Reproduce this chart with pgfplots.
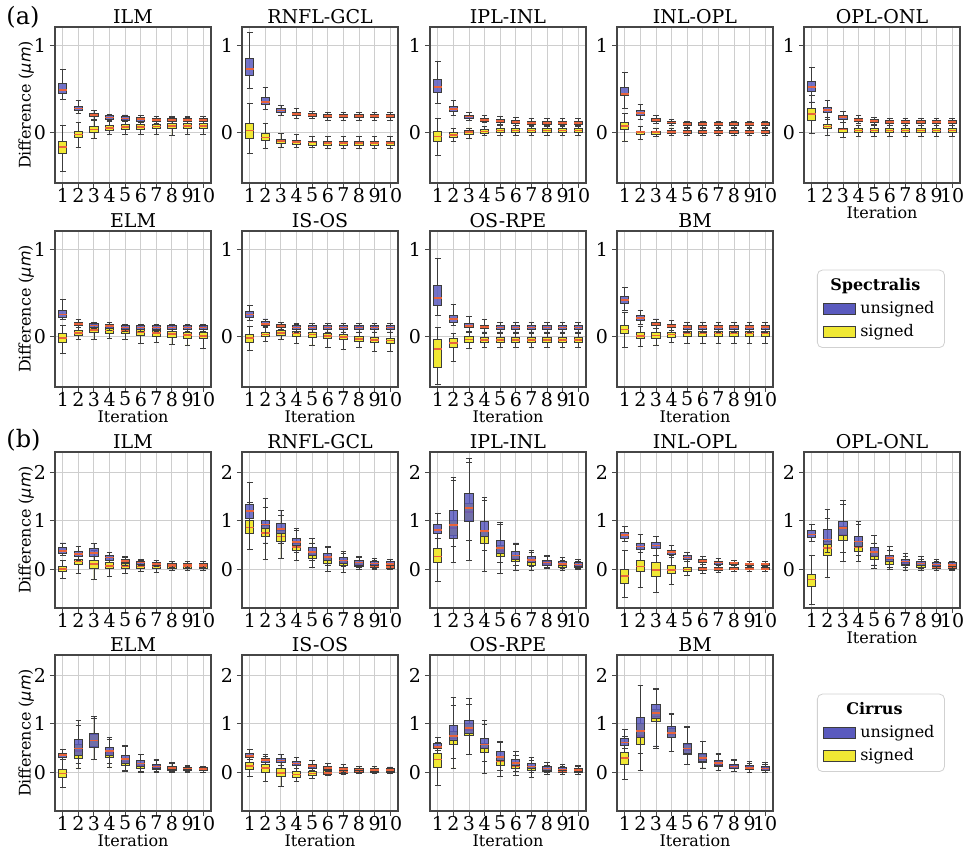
\documentclass[border=0pt]{standalone}
\usepackage{fontspec}
\setmainfont{DejaVu Serif}
\newfontfamily\dvs{DejaVu Sans}
\usepackage{pgfplots}
\usepackage{pgfplotstable}
\pgfplotsset{compat=1.18}
\usepgfplotslibrary{statistics}

\definecolor{uB}{RGB}{90,90,190}
\definecolor{sY}{RGB}{240,232,52}
\definecolor{edge}{RGB}{60,60,60}
\definecolor{medc}{RGB}{232,100,60}
\definecolor{gridc}{RGB}{206,206,206}
\definecolor{spine}{RGB}{70,70,70}

% columns: unsigned (lower whisker, Q1, median, Q3, upper whisker), signed (same)
% ---------------- (a) Spectralis ----------------
\pgfplotstableread{
uLW uLQ uMed uUQ uUW sLW sLQ sMed sUQ sUW
0.38 0.45 0.49 0.56 0.72 -0.45 -0.24 -0.17 -0.11 0.08
0.22 0.25 0.275 0.30 0.37 -0.17 -0.06 -0.025 0.01 0.11
0.15 0.18 0.20 0.22 0.25 -0.07 0.00 0.03 0.065 0.14
0.13 0.15 0.17 0.19 0.21 -0.03 0.02 0.05 0.08 0.14
0.12 0.14 0.16 0.18 0.20 -0.02 0.03 0.06 0.09 0.15
0.11 0.13 0.15 0.17 0.19 -0.02 0.03 0.06 0.09 0.16
0.10 0.12 0.14 0.16 0.18 -0.02 0.04 0.065 0.09 0.16
0.10 0.12 0.14 0.16 0.18 -0.04 0.04 0.07 0.10 0.17
0.10 0.12 0.14 0.16 0.18 -0.02 0.04 0.07 0.10 0.17
0.10 0.12 0.14 0.16 0.18 -0.02 0.04 0.07 0.10 0.16
}\aILM
\pgfplotstableread{
uLW uLQ uMed uUQ uUW sLW sLQ sMed sUQ sUW
0.51 0.66 0.73 0.85 1.15 -0.24 -0.07 0.02 0.10 0.33
0.26 0.32 0.35 0.40 0.52 -0.19 -0.09 -0.06 -0.01 0.10
0.19 0.23 0.25 0.28 0.31 -0.17 -0.13 -0.10 -0.08 -0.01
0.16 0.19 0.21 0.23 0.27 -0.18 -0.14 -0.11 -0.09 -0.03
0.16 0.18 0.20 0.22 0.24 -0.18 -0.15 -0.12 -0.10 -0.05
0.14 0.17 0.19 0.21 0.23 -0.19 -0.15 -0.125 -0.10 -0.05
0.14 0.17 0.19 0.21 0.23 -0.19 -0.15 -0.125 -0.10 -0.05
0.14 0.17 0.19 0.21 0.23 -0.19 -0.15 -0.125 -0.10 -0.05
0.14 0.17 0.19 0.21 0.23 -0.19 -0.15 -0.125 -0.10 -0.05
0.14 0.17 0.19 0.21 0.23 -0.19 -0.15 -0.125 -0.10 -0.05
}\aRNFL
\pgfplotstableread{
uLW uLQ uMed uUQ uUW sLW sLQ sMed sUQ sUW
0.335 0.46 0.52 0.61 0.815 -0.27 -0.11 -0.05 0.01 0.16
0.19 0.24 0.27 0.30 0.37 -0.11 -0.06 -0.03 0.00 0.04
0.14 0.16 0.18 0.20 0.23 -0.07 -0.02 0.00 0.02 0.05
0.11 0.13 0.145 0.16 0.19 -0.04 -0.01 0.01 0.03 0.07
0.09 0.11 0.13 0.15 0.18 -0.04 0.00 0.02 0.04 0.08
0.08 0.10 0.12 0.14 0.17 -0.04 0.00 0.02 0.04 0.08
0.07 0.09 0.11 0.13 0.16 -0.04 0.00 0.02 0.04 0.08
0.07 0.09 0.11 0.13 0.16 -0.04 0.00 0.02 0.04 0.08
0.07 0.09 0.11 0.13 0.16 -0.04 0.00 0.02 0.04 0.08
0.07 0.09 0.11 0.13 0.16 -0.04 0.00 0.02 0.04 0.08
}\aIPL
\pgfplotstableread{
uLW uLQ uMed uUQ uUW sLW sLQ sMed sUQ sUW
0.28 0.42 0.44 0.52 0.69 -0.10 0.035 0.07 0.11 0.22
0.15 0.19 0.22 0.25 0.32 -0.08 -0.02 0.00 0.01 0.07
0.10 0.12 0.14 0.16 0.19 -0.05 -0.02 0.00 0.01 0.05
0.08 0.10 0.115 0.13 0.15 -0.04 -0.01 0.005 0.02 0.05
0.06 0.08 0.095 0.11 0.13 -0.04 -0.01 0.005 0.02 0.05
0.06 0.08 0.095 0.11 0.13 -0.04 -0.01 0.005 0.02 0.05
0.06 0.08 0.095 0.11 0.13 -0.04 -0.01 0.005 0.02 0.05
0.06 0.08 0.095 0.11 0.13 -0.04 -0.01 0.005 0.02 0.05
0.06 0.08 0.095 0.11 0.13 -0.04 -0.01 0.005 0.02 0.05
0.06 0.08 0.095 0.11 0.13 -0.04 -0.01 0.005 0.02 0.05
}\aINL
\pgfplotstableread{
uLW uLQ uMed uUQ uUW sLW sLQ sMed sUQ sUW
0.35 0.47 0.52 0.59 0.75 -0.01 0.14 0.21 0.28 0.42
0.15 0.23 0.26 0.29 0.37 -0.04 0.04 0.065 0.09 0.17
0.11 0.15 0.175 0.20 0.24 -0.06 0.00 0.03 0.05 0.11
0.10 0.12 0.14 0.16 0.19 -0.05 0.00 0.02 0.04 0.08
0.09 0.11 0.13 0.15 0.17 -0.05 0.00 0.02 0.04 0.08
0.08 0.10 0.12 0.14 0.16 -0.05 0.00 0.02 0.04 0.08
0.08 0.10 0.12 0.14 0.16 -0.05 0.00 0.02 0.04 0.08
0.08 0.10 0.12 0.14 0.16 -0.05 0.00 0.02 0.04 0.08
0.08 0.10 0.12 0.14 0.16 -0.05 0.00 0.02 0.04 0.08
0.08 0.10 0.12 0.14 0.16 -0.05 0.00 0.02 0.04 0.08
}\aOPL
\pgfplotstableread{
uLW uLQ uMed uUQ uUW sLW sLQ sMed sUQ sUW
0.19 0.215 0.25 0.30 0.42 -0.20 -0.07 -0.02 0.035 0.12
0.10 0.12 0.14 0.16 0.19 -0.04 0.01 0.04 0.07 0.15
0.09 0.10 0.125 0.15 0.16 -0.04 0.04 0.07 0.10 0.14
0.07 0.09 0.12 0.14 0.16 -0.03 0.03 0.065 0.10 0.14
0.06 0.08 0.10 0.13 0.14 -0.04 0.03 0.06 0.09 0.14
0.06 0.08 0.10 0.12 0.14 -0.08 0.01 0.05 0.08 0.14
0.06 0.08 0.10 0.12 0.14 -0.07 0.00 0.035 0.07 0.13
0.06 0.08 0.10 0.12 0.14 -0.09 -0.01 0.025 0.06 0.12
0.06 0.08 0.10 0.12 0.14 -0.10 -0.02 0.015 0.05 0.12
0.06 0.08 0.10 0.12 0.14 -0.14 -0.03 0.00 0.04 0.11
}\aELM
\pgfplotstableread{
uLW uLQ uMed uUQ uUW sLW sLQ sMed sUQ sUW
0.18 0.215 0.25 0.285 0.36 -0.16 -0.07 -0.02 0.02 0.11
0.10 0.12 0.14 0.17 0.20 -0.06 0.00 0.02 0.05 0.11
0.08 0.10 0.12 0.14 0.16 -0.04 0.01 0.04 0.07 0.13
0.05 0.08 0.10 0.13 0.15 -0.08 0.00 0.03 0.06 0.14
0.05 0.08 0.10 0.13 0.15 -0.10 -0.01 0.02 0.05 0.13
0.05 0.08 0.10 0.13 0.15 -0.13 -0.03 0.00 0.03 0.13
0.05 0.08 0.10 0.13 0.15 -0.15 -0.04 -0.01 0.02 0.12
0.05 0.08 0.10 0.13 0.15 -0.13 -0.06 -0.03 0.00 0.11
0.05 0.08 0.10 0.13 0.15 -0.17 -0.07 -0.04 -0.01 0.11
0.05 0.08 0.10 0.13 0.15 -0.18 -0.08 -0.05 -0.02 0.12
}\aISOS
\pgfplotstableread{
uLW uLQ uMed uUQ uUW sLW sLQ sMed sUQ sUW
0.24 0.36 0.44 0.59 0.90 -0.56 -0.36 -0.15 -0.04 0.10
0.12 0.16 0.20 0.24 0.37 -0.29 -0.13 -0.08 -0.03 0.03
0.06 0.10 0.12 0.15 0.23 -0.14 -0.07 -0.035 0.00 0.05
0.05 0.09 0.11 0.13 0.19 -0.13 -0.07 -0.04 -0.01 0.03
0.05 0.08 0.10 0.12 0.16 -0.13 -0.07 -0.04 -0.01 0.03
0.05 0.08 0.10 0.12 0.16 -0.13 -0.07 -0.04 -0.01 0.03
0.05 0.08 0.10 0.12 0.16 -0.13 -0.07 -0.04 -0.01 0.03
0.05 0.08 0.10 0.12 0.16 -0.13 -0.07 -0.04 -0.01 0.03
0.05 0.08 0.10 0.12 0.16 -0.13 -0.07 -0.04 -0.01 0.03
0.05 0.08 0.10 0.12 0.16 -0.13 -0.07 -0.04 -0.01 0.03
}\aOSRPE
\pgfplotstableread{
uLW uLQ uMed uUQ uUW sLW sLQ sMed sUQ sUW
0.30 0.38 0.42 0.46 0.56 -0.13 0.035 0.08 0.13 0.28
0.14 0.18 0.21 0.24 0.30 -0.12 -0.03 0.00 0.04 0.11
0.09 0.12 0.14 0.16 0.20 -0.10 -0.02 0.01 0.04 0.12
0.07 0.10 0.12 0.14 0.18 -0.07 -0.01 0.02 0.05 0.13
0.05 0.08 0.105 0.13 0.16 -0.08 0.00 0.03 0.06 0.13
0.05 0.08 0.105 0.13 0.16 -0.08 0.00 0.03 0.06 0.13
0.05 0.08 0.105 0.13 0.16 -0.08 0.00 0.03 0.06 0.13
0.05 0.08 0.105 0.13 0.16 -0.08 0.00 0.03 0.06 0.13
0.05 0.08 0.105 0.13 0.16 -0.08 0.00 0.03 0.06 0.13
0.05 0.08 0.105 0.13 0.16 -0.08 0.00 0.03 0.06 0.13
}\aBM
% ---------------- (b) Cirrus ----------------
\pgfplotstableread{
uLW uLQ uMed uUQ uUW sLW sLQ sMed sUQ sUW
0.30 0.34 0.38 0.455 0.55 -0.17 -0.03 0.02 0.07 0.20
0.20 0.27 0.32 0.37 0.47 -0.07 0.12 0.17 0.22 0.37
0.20 0.27 0.34 0.44 0.53 -0.20 0.03 0.12 0.20 0.40
0.15 0.20 0.25 0.29 0.36 -0.13 0.02 0.08 0.15 0.30
0.10 0.15 0.18 0.22 0.27 -0.07 0.03 0.08 0.13 0.25
0.08 0.12 0.15 0.18 0.22 -0.03 0.03 0.07 0.12 0.20
0.06 0.10 0.12 0.16 0.20 -0.05 0.03 0.07 0.12 0.20
0.05 0.08 0.10 0.14 0.18 -0.02 0.03 0.07 0.11 0.18
0.05 0.08 0.10 0.14 0.18 -0.02 0.03 0.07 0.11 0.18
0.05 0.08 0.10 0.14 0.18 -0.02 0.03 0.07 0.11 0.18
}\bILM
\pgfplotstableread{
uLW uLQ uMed uUQ uUW sLW sLQ sMed sUQ sUW
0.75 1.05 1.20 1.33 1.78 0.42 0.75 0.87 1.02 1.38
0.55 0.85 0.93 1.02 1.45 0.22 0.68 0.75 0.90 1.28
0.55 0.75 0.83 0.95 1.22 0.23 0.58 0.68 0.80 1.12
0.35 0.50 0.57 0.65 0.85 0.20 0.40 0.47 0.55 0.80
0.20 0.30 0.37 0.45 0.65 0.05 0.24 0.30 0.38 0.55
0.10 0.20 0.26 0.33 0.47 -0.03 0.13 0.19 0.26 0.45
0.06 0.14 0.19 0.25 0.38 -0.05 0.08 0.14 0.20 0.33
0.04 0.10 0.15 0.20 0.28 0.00 0.06 0.10 0.15 0.25
0.03 0.09 0.13 0.18 0.24 0.00 0.04 0.08 0.12 0.20
0.03 0.08 0.12 0.17 0.22 0.00 0.03 0.06 0.10 0.18
}\bRNFL
\pgfplotstableread{
uLW uLQ uMed uUQ uUW sLW sLQ sMed sUQ sUW
0.65 0.75 0.82 0.92 1.15 -0.23 0.16 0.27 0.44 0.65
0.47 0.65 0.92 1.22 1.88 0.15 0.70 0.85 1.00 1.82
0.60 0.99 1.27 1.56 2.28 0.20 1.00 1.18 1.35 2.20
0.40 0.68 0.80 0.98 1.48 -0.03 0.55 0.68 0.80 1.42
0.15 0.34 0.45 0.61 0.97 -0.08 0.28 0.38 0.50 0.93
0.08 0.22 0.29 0.37 0.55 -0.01 0.17 0.23 0.30 0.52
0.06 0.15 0.20 0.28 0.40 -0.02 0.10 0.16 0.22 0.35
0.04 0.10 0.15 0.20 0.30 0.02 0.08 0.12 0.17 0.27
0.03 0.08 0.12 0.17 0.25 -0.01 0.05 0.09 0.13 0.20
0.03 0.07 0.11 0.16 0.22 0.00 0.04 0.08 0.12 0.18
}\bIPL
\pgfplotstableread{
uLW uLQ uMed uUQ uUW sLW sLQ sMed sUQ sUW
0.58 0.65 0.71 0.77 0.88 -0.57 -0.27 -0.12 0.01 0.40
0.35 0.42 0.48 0.55 0.72 -0.37 -0.03 0.07 0.20 0.55
0.30 0.43 0.50 0.56 0.68 -0.47 -0.13 0.00 0.16 0.50
0.25 0.32 0.36 0.40 0.50 -0.29 -0.07 0.00 0.08 0.30
0.18 0.22 0.25 0.29 0.35 -0.11 -0.03 0.01 0.05 0.17
0.11 0.15 0.18 0.21 0.28 -0.07 -0.01 0.02 0.05 0.12
0.09 0.12 0.15 0.18 0.23 -0.05 -0.01 0.02 0.05 0.10
0.08 0.11 0.135 0.16 0.20 -0.03 0.00 0.02 0.05 0.09
0.07 0.10 0.12 0.14 0.18 -0.03 0.00 0.02 0.05 0.09
0.06 0.09 0.115 0.14 0.17 -0.03 0.00 0.02 0.05 0.09
}\bINL
\pgfplotstableread{
uLW uLQ uMed uUQ uUW sLW sLQ sMed sUQ sUW
0.58 0.66 0.72 0.80 0.92 -0.70 -0.34 -0.20 -0.10 0.30
0.35 0.52 0.62 0.82 1.23 -0.15 0.30 0.45 0.58 1.05
0.35 0.71 0.85 0.99 1.42 0.18 0.60 0.72 0.88 1.33
0.30 0.47 0.58 0.68 0.98 0.17 0.38 0.46 0.58 0.92
0.10 0.28 0.36 0.45 0.70 0.02 0.22 0.28 0.35 0.55
0.05 0.18 0.24 0.30 0.48 0.00 0.12 0.17 0.22 0.40
0.04 0.12 0.17 0.22 0.33 -0.01 0.08 0.12 0.16 0.28
0.02 0.09 0.13 0.18 0.27 -0.02 0.05 0.09 0.13 0.22
0.02 0.07 0.11 0.16 0.22 -0.02 0.03 0.06 0.10 0.18
0.01 0.06 0.10 0.15 0.18 -0.02 0.02 0.05 0.09 0.15
}\bOPL
\pgfplotstableread{
uLW uLQ uMed uUQ uUW sLW sLQ sMed sUQ sUW
0.28 0.32 0.36 0.40 0.48 -0.30 -0.10 -0.01 0.07 0.27
0.20 0.35 0.50 0.68 1.07 0.10 0.30 0.45 0.58 0.97
0.28 0.52 0.66 0.81 1.15 0.28 0.55 0.66 0.78 1.12
0.20 0.36 0.45 0.52 0.72 0.12 0.32 0.40 0.45 0.68
0.05 0.20 0.28 0.35 0.56 0.02 0.16 0.23 0.30 0.55
0.03 0.13 0.19 0.25 0.38 0.00 0.10 0.15 0.20 0.37
0.02 0.09 0.13 0.18 0.27 0.00 0.06 0.10 0.15 0.25
0.02 0.07 0.10 0.14 0.22 0.00 0.05 0.08 0.12 0.19
0.02 0.06 0.09 0.12 0.16 0.00 0.04 0.07 0.10 0.14
0.01 0.05 0.08 0.11 0.14 0.00 0.04 0.065 0.09 0.13
}\bELM
\pgfplotstableread{
uLW uLQ uMed uUQ uUW sLW sLQ sMed sUQ sUW
0.27 0.31 0.35 0.40 0.47 -0.08 0.07 0.14 0.22 0.40
0.17 0.22 0.26 0.30 0.37 -0.17 0.00 0.10 0.18 0.33
0.15 0.21 0.25 0.30 0.37 -0.28 -0.08 0.00 0.08 0.30
0.09 0.15 0.19 0.24 0.32 -0.18 -0.09 -0.03 0.02 0.18
0.05 0.10 0.14 0.18 0.25 -0.12 -0.06 -0.01 0.03 0.12
0.02 0.07 0.10 0.14 0.20 -0.06 -0.03 0.00 0.04 0.10
0.01 0.05 0.08 0.12 0.17 -0.04 -0.01 0.02 0.05 0.10
0.00 0.04 0.07 0.10 0.14 -0.02 0.00 0.03 0.06 0.10
0.00 0.03 0.06 0.09 0.13 -0.02 0.00 0.03 0.06 0.10
0.00 0.03 0.06 0.09 0.12 -0.02 0.00 0.03 0.06 0.10
}\bISOS
\pgfplotstableread{
uLW uLQ uMed uUQ uUW sLW sLQ sMed sUQ sUW
0.45 0.49 0.53 0.60 0.73 -0.25 0.12 0.27 0.39 0.62
0.30 0.66 0.75 0.97 1.55 0.10 0.58 0.70 0.85 1.38
0.37 0.80 0.92 1.07 1.52 0.37 0.76 0.88 1.00 1.40
0.24 0.49 0.58 0.71 1.07 -0.02 0.42 0.52 0.60 0.98
0.05 0.25 0.33 0.43 0.65 -0.08 0.15 0.23 0.32 0.62
0.03 0.15 0.20 0.27 0.44 -0.06 0.08 0.14 0.20 0.35
0.01 0.09 0.13 0.19 0.31 -0.09 0.05 0.09 0.13 0.25
0.00 0.05 0.09 0.13 0.22 -0.04 0.02 0.05 0.08 0.15
0.00 0.04 0.07 0.11 0.18 -0.04 0.01 0.04 0.07 0.13
0.00 0.03 0.06 0.10 0.16 -0.03 0.01 0.04 0.07 0.13
}\bOSRPE
\pgfplotstableread{
uLW uLQ uMed uUQ uUW sLW sLQ sMed sUQ sUW
0.50 0.56 0.62 0.70 0.88 -0.13 0.18 0.30 0.42 0.75
0.40 0.73 0.85 1.13 1.78 0.05 0.58 0.75 1.00 1.78
0.55 1.11 1.22 1.39 1.73 0.50 1.05 1.15 1.30 1.70
0.43 0.72 0.82 0.94 1.22 0.43 0.72 0.80 0.90 1.20
0.17 0.40 0.50 0.60 0.95 0.17 0.38 0.47 0.58 0.92
0.10 0.23 0.30 0.40 0.65 0.10 0.22 0.28 0.37 0.65
0.05 0.15 0.20 0.26 0.40 0.04 0.13 0.18 0.24 0.38
0.02 0.09 0.13 0.18 0.28 0.02 0.08 0.12 0.16 0.26
0.01 0.06 0.10 0.15 0.23 0.01 0.06 0.09 0.13 0.20
0.01 0.05 0.09 0.14 0.21 0.00 0.05 0.08 0.12 0.18
}\bBM

\newcommand\fs[1]{\fontsize{#1}{#1}\selectfont}

\pgfplotsset{
  base/.style={
    scale only axis, width=78pt, height=78pt,
    xmin=0.5, xmax=10.5, xtick={1,2,...,10},
    tick pos=left, tick align=outside, major tick length=2.5pt,
    tick style={spine, line width=0.5pt},
    axis line style={spine, line width=0.6pt},
    grid=major, major grid style={gridc, line width=0.5pt},
    /pgf/number format/assume math mode=true,
    ticklabel style={font=\fs{9.5}},
    xticklabel style={yshift=3.5pt},
    yticklabel style={xshift=1.5pt},
    title style={font=\fs{9.5}, at={(axis description cs:0.5,1)}, anchor=base, yshift=-4.5pt},
    xlabel style={font=\fs{8}, at={(axis description cs:0.5,-0.19)}, anchor=center},
    ylabel style={font=\fs{8}, at={(axis description cs:-0.185,0.5)}, anchor=center},
    clip=false,
  },
  ya/.style={ymin=-0.585, ymax=1.215, ytick={0,1}},
  yb/.style={ymin=-0.78, ymax=2.41, ytick={0,1,2}},
  sbox/.style={draw=edge, fill=sY, line width=0.45pt,
    boxplot/draw direction=y,
    boxplot/box extend=0.53, boxplot/whisker extend=0.35,
    boxplot/every median/.style={draw=medc, line width=0.8pt}},
  ubox/.style={draw=edge, fill=uB, fill opacity=0.85, line width=0.45pt,
    boxplot/draw direction=y,
    boxplot/box extend=0.53, boxplot/whisker extend=0.35,
    boxplot/every median/.style={draw=medc, line width=0.8pt}},
  legbox/.style={legend style={at={(1.282,0.752)}, anchor=north west,
    draw=black!18, rounded corners=2.5pt, fill=white, font=\fs{8},
    inner xsep=3pt, inner ysep=2pt, row sep=0pt,
    /tikz/every even column/.append style={column sep=6pt}},
    legend cell align=left},
}

% one box: #1 table, #2 row, #3 series prefix (u or s)
\newcommand\onebox[3]{%
  \pgfplotstablegetelem{#2}{#3LW}\of{#1}\let\vLW\pgfplotsretval
  \pgfplotstablegetelem{#2}{#3LQ}\of{#1}\let\vLQ\pgfplotsretval
  \pgfplotstablegetelem{#2}{#3Med}\of{#1}\let\vMed\pgfplotsretval
  \pgfplotstablegetelem{#2}{#3UQ}\of{#1}\let\vUQ\pgfplotsretval
  \pgfplotstablegetelem{#2}{#3UW}\of{#1}\let\vUW\pgfplotsretval
  \edef\tmp{\noexpand\addplot[#3box, boxplot prepared={draw position=\the\numexpr#2+1\relax,
    lower whisker=\vLW, lower quartile=\vLQ, median=\vMed,
    upper quartile=\vUQ, upper whisker=\vUW}] coordinates {};}%
  \tmp
}
\newcommand\boxes[1]{%
  \pgfplotsinvokeforeach{0,...,9}{%
    \onebox{#1}{##1}{s}%
    \onebox{#1}{##1}{u}%
  }%
}

\newcommand\ylab{Difference ({\dvs\itshape μm})}
\newcommand\legimgs{%
  \addlegendimage{empty legend}
  \addlegendimage{legend image code/.code={\draw[sharp corners, draw=edge, fill=uB, line width=0.45pt] (0pt,-2.6pt) rectangle (16pt,2.6pt);}}
  \addlegendimage{legend image code/.code={\draw[sharp corners, draw=edge, fill=sY, line width=0.45pt] (0pt,-2.6pt) rectangle (16pt,2.6pt);}}
}

\begin{document}
\begin{tikzpicture}
\path[use as bounding box] (0,0) rectangle (483pt,-427.5pt);
\node[anchor=west, font=\fs{12}, inner sep=0pt] at (3pt,-8.5pt) {(a)};
\node[anchor=west, font=\fs{12}, inner sep=0pt] at (3pt,-220pt) {(b)};

% ---- (a) row 1
\begin{axis}[base, ya, at={(27.5pt,-13.5pt)}, anchor=north west, title={ILM}, ylabel={\ylab}]
\boxes{\aILM}
\end{axis}
\begin{axis}[base, ya, at={(121pt,-13.5pt)}, anchor=north west, title={RNFL-GCL}]
\boxes{\aRNFL}
\end{axis}
\begin{axis}[base, ya, at={(215pt,-13.5pt)}, anchor=north west, title={IPL-INL}]
\boxes{\aIPL}
\end{axis}
\begin{axis}[base, ya, at={(308.5pt,-13.5pt)}, anchor=north west, title={INL-OPL}]
\boxes{\aINL}
\end{axis}
\begin{axis}[base, ya, at={(402pt,-13.5pt)}, anchor=north west, title={OPL-ONL}, xlabel={Iteration}]
\boxes{\aOPL}
\end{axis}
% ---- (a) row 2
\begin{axis}[base, ya, at={(27.5pt,-115.5pt)}, anchor=north west, title={ELM}, ylabel={\ylab}, xlabel={Iteration}]
\boxes{\aELM}
\end{axis}
\begin{axis}[base, ya, at={(121pt,-115.5pt)}, anchor=north west, title={IS-OS}, xlabel={Iteration}]
\boxes{\aISOS}
\end{axis}
\begin{axis}[base, ya, at={(215pt,-115.5pt)}, anchor=north west, title={OS-RPE}, xlabel={Iteration}]
\boxes{\aOSRPE}
\end{axis}
\begin{axis}[base, ya, legbox, at={(308.5pt,-115.5pt)}, anchor=north west, title={BM}, xlabel={Iteration},
  legend entries={\hspace*{-15pt}\textbf{Spectralis}, unsigned, signed}]
\legimgs
\boxes{\aBM}
\end{axis}

% ---- (b) row 1
\begin{axis}[base, yb, at={(27.5pt,-226pt)}, anchor=north west, title={ILM}, ylabel={\ylab}]
\boxes{\bILM}
\end{axis}
\begin{axis}[base, yb, at={(121pt,-226pt)}, anchor=north west, title={RNFL-GCL}]
\boxes{\bRNFL}
\end{axis}
\begin{axis}[base, yb, at={(215pt,-226pt)}, anchor=north west, title={IPL-INL}]
\boxes{\bIPL}
\end{axis}
\begin{axis}[base, yb, at={(308.5pt,-226pt)}, anchor=north west, title={INL-OPL}]
\boxes{\bINL}
\end{axis}
\begin{axis}[base, yb, at={(402pt,-226pt)}, anchor=north west, title={OPL-ONL}, xlabel={Iteration}]
\boxes{\bOPL}
\end{axis}
% ---- (b) row 2
\begin{axis}[base, yb, at={(27.5pt,-327.5pt)}, anchor=north west, title={ELM}, ylabel={\ylab}, xlabel={Iteration}]
\boxes{\bELM}
\end{axis}
\begin{axis}[base, yb, at={(121pt,-327.5pt)}, anchor=north west, title={IS-OS}, xlabel={Iteration}]
\boxes{\bISOS}
\end{axis}
\begin{axis}[base, yb, at={(215pt,-327.5pt)}, anchor=north west, title={OS-RPE}, xlabel={Iteration}]
\boxes{\bOSRPE}
\end{axis}
\begin{axis}[base, yb, legbox, at={(308.5pt,-327.5pt)}, anchor=north west, title={BM}, xlabel={Iteration},
  legend entries={\hspace*{-7pt}\textbf{Cirrus}, unsigned, signed}]
\legimgs
\boxes{\bBM}
\end{axis}
\end{tikzpicture}
\end{document}
